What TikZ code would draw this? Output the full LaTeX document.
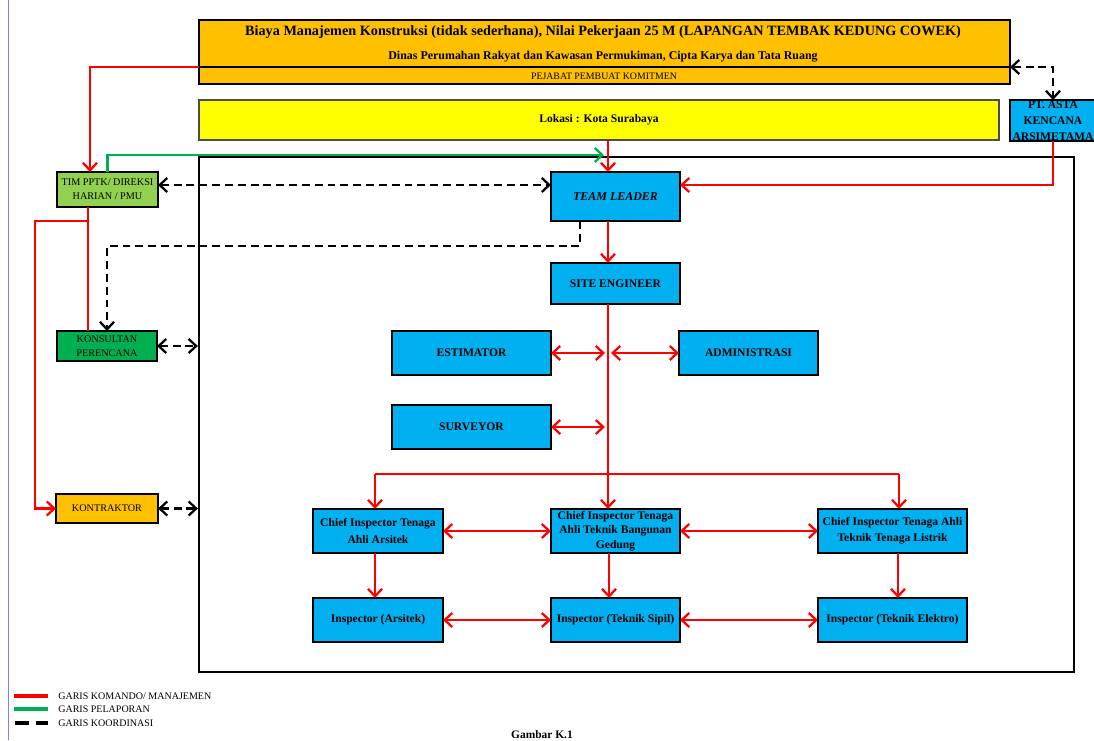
\documentclass[tikz,border=0pt]{standalone}
\usepackage{fontspec}
\setmainfont{Liberation Serif}
\usetikzlibrary{arrows.meta}
\definecolor{orng}{HTML}{FFC000}
\definecolor{cyanb}{HTML}{00B0F0}
\definecolor{lgreen}{HTML}{92D050}
\definecolor{dgreen}{HTML}{00B050}
\definecolor{redl}{HTML}{FF0000}
\definecolor{ylw}{HTML}{FFFF00}
\definecolor{marg}{HTML}{8080FF}
% box from (x1,y1) to (x2,y2) in pixel units
\newcommand{\boxat}[7][]{%
  \node[#1, minimum width={(#4-#2)*0.02cm}, minimum height={(#5-#3)*0.02cm}] (#6) at ({(#2+#4)/2},{(#3+#5)/2}) {#7};}
\begin{document}
\begin{tikzpicture}[x=0.02cm,y=-0.02cm,
  base/.style={draw=black, line width=1.1pt, align=center, inner sep=0pt, outer sep=0pt},
  box/.style={base, fill=cyanb, font=\bfseries\fontsize{6.6}{9.2}\selectfont},
  sbox/.style={base, font=\fontsize{5.8}{8}\selectfont},
  cmd/.style={draw=redl, line width=1.5pt},
  tip/.tip={Straight Barb[length=4.3pt,width=8pt,line width=1.3pt]},
  arr/.style={-tip},
  darr/.style={tip-tip},
  coord/.style={draw=black, line width=1.4pt, dash pattern=on 4.5pt off 2.8pt},
  rep/.style={draw=dgreen, line width=1.5pt},
  legtxt/.style={anchor=west, inner sep=0pt, font=\fontsize{5.7}{6}\selectfont}
]
\useasboundingbox (0,0) rectangle (1094,740);
\draw[marg, line width=0.5pt] (8,0) -- (8,740);

% header
\boxat[base, fill=orng]{199}{20}{1010}{84}{hdr}{}
\node[font=\bfseries\fontsize{8.1}{10}\selectfont] (ttl) at (603,32) {Biaya Manajemen Konstruksi (tidak sederhana), Nilai Pekerjaan 25 M (LAPANGAN TEMBAK KEDUNG COWEK)};
\node[font=\bfseries\fontsize{6.8}{8}\selectfont] (sub) at (603,57) {Dinas Perumahan Rakyat dan Kawasan Permukiman, Cipta Karya dan Tata Ruang};
\coordinate (hdivL) at (199,67);
\coordinate (hdivR) at (1010,67);
\draw[line width=0.8pt] (hdivL) -- (hdivR);
\node[font=\fontsize{5.6}{6}\selectfont] (ppk) at (604,76) {PEJABAT PEMBUAT KOMITMEN};

\boxat[base, draw=black!70, fill=ylw, font=\bfseries\fontsize{6.6}{8}\selectfont]{199}{100}{999}{140}{lok}{Lokasi : Kota Surabaya}
\boxat[box]{1010}{100}{1096}{141}{pt}{PT. ASTA\\KENCANA\\ARSIMETAMA}

% frame
\boxat[draw=black, line width=1.3pt]{199}{157}{1074}{672}{frame}{}

% main boxes
\boxat[box, font=\bfseries\itshape\fontsize{6.8}{9}\selectfont]{551}{172}{680}{221}{tl}{TEAM LEADER}
\boxat[box]{551}{263}{680}{304}{se}{SITE ENGINEER}
\boxat[box]{392}{331}{551}{375}{est}{ESTIMATOR}
\boxat[box]{679}{331}{818}{375}{adm}{ADMINISTRASI}
\boxat[box]{392}{405}{551}{449}{sur}{SURVEYOR}
\boxat[box]{313}{509}{443}{553}{ca}{Chief Inspector Tenaga\\Ahli Arsitek}
\boxat[box, font=\bfseries\fontsize{6.6}{8.4}\selectfont]{551}{509}{680}{553}{cb}{Chief Inspector Tenaga\\Ahli Teknik Bangunan\\Gedung}
\boxat[box]{818}{509}{967}{553}{cc}{Chief Inspector Tenaga Ahli\\Teknik Tenaga Listrik}
\boxat[box]{313}{598}{443}{642}{ia}{Inspector (Arsitek)}
\boxat[box]{551}{598}{680}{642}{ib}{Inspector (Teknik Sipil)}
\boxat[box]{818}{598}{967}{642}{ic}{Inspector (Teknik Elektro)}

% left boxes
\boxat[sbox, fill=lgreen]{57}{172}{158}{207}{tim}{TIM PPTK/ DIREKSI\\HARIAN / PMU}
\boxat[sbox, fill=dgreen]{57}{331}{157}{361}{kon}{KONSULTAN\\PERENCANA}
\boxat[sbox, fill=orng]{56}{494}{158}{523}{ktr}{KONTRAKTOR}

% command lines
\draw[cmd, arr] (hdivL) -| (tim.north -| 90,0);
\draw[cmd, arr] (lok.south -| 608,0) -- (tl.north -| 608,0);
\draw[cmd, arr] (pt.south) |- (tl.east |- 0,185);
\draw[cmd, arr] (tl.south -| 608,0) -- (se.north -| 608,0);
\draw[cmd, arr] (se.south -| 608,0) -- (cb.north -| 608,0);
\coordinate (bl) at (375,474);
\coordinate (br) at (899,474);
\draw[cmd] (bl) -- (br);
\draw[cmd, arr] (bl) -- (bl |- ca.north);
\draw[cmd, arr] (br) -- (br |- cc.north);
\draw[cmd, darr] (est.east) -- (est.east -| 605,0);
\draw[cmd, darr] (adm.west) -- (adm.west -| 611,0);
\draw[cmd, darr] (sur.east) -- (sur.east -| 605,0);
\draw[cmd, darr] (ca.east) -- (cb.west);
\draw[cmd, darr] (cb.east) -- (cc.west);
\draw[cmd, darr] (ia.east) -- (ib.west);
\draw[cmd, darr] (ib.east) -- (ic.west);
\draw[cmd, arr] (ca.south -| 375,0) -- (ia.north -| 375,0);
\draw[cmd, arr] (cb.south -| 609,0) -- (ib.north -| 609,0);
\draw[cmd, arr] (cc.south -| 898,0) -- (ic.north -| 898,0);
\coordinate (jk) at (88,221);
\draw[cmd] (tim.south -| 88,0) -- (kon.north -| 88,0);
\draw[cmd, arr] (jk) -- (35,221) |- (ktr.west);

% reporting line
\draw[rep, arr] (tim.north) |- (604,155);

% coordination lines
\draw[coord, darr] (hdivR) -| (pt.north);
\draw[coord, darr] (tim.east |- 0,185) -- (tl.west |- 0,185);
\draw[coord, arr] (tl.south -| 580,0) |- (kon.north |- 0,246) -- (kon.north);
\draw[coord, darr] (kon.east) -- (frame.west |- kon.east);
\draw[coord, darr] (ktr.east) -- (frame.west |- ktr.east);

% legend
\draw[redl, line width=2.6pt] (14,696) -- (48,696);
\draw[dgreen, line width=2.6pt] (14,709) -- (48,709);
\draw[black, line width=2.6pt, dash pattern=on 8pt off 4pt] (15,723) -- (48,723);
\node[legtxt] (l1) at (58,696) {GARIS KOMANDO/ MANAJEMEN};
\node[legtxt] (l2) at (58,709) {GARIS PELAPORAN};
\node[legtxt] (l3) at (58,723) {GARIS KOORDINASI};

\node[font=\bfseries\fontsize{6.5}{8}\selectfont, anchor=base, inner sep=0pt] (cap) at (542,738) {Gambar K.1};
\end{tikzpicture}
\end{document}
